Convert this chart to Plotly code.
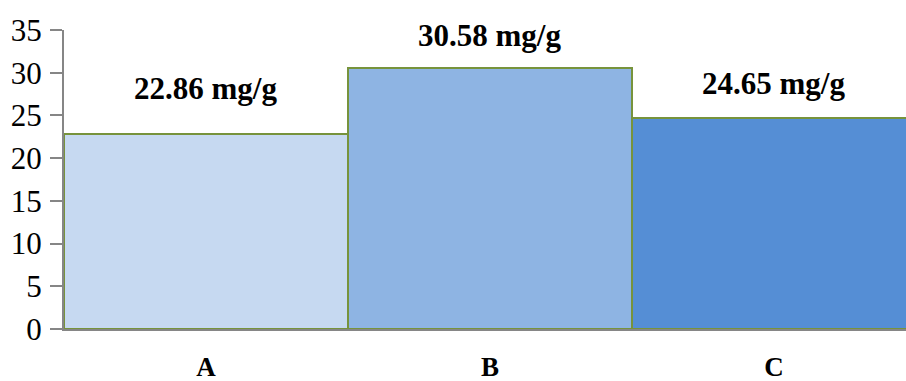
import plotly.graph_objects as go

categories = ["A", "B", "C"]
values = [22.86, 30.58, 24.65]
labels = ["22.86 mg/g", "30.58 mg/g", "24.65 mg/g"]
bar_colors = ["#C6D9F1", "#8EB4E3", "#558ED5"]
label_shift = [26, 13, 15]
y_ticks = [0, 5, 10, 15, 20, 25, 30, 35]

SERIF = "'Times New Roman', 'Liberation Serif', 'DejaVu Serif', serif"

fig = go.Figure()
fig.add_trace(go.Bar(
    x=categories, y=values,
    marker=dict(color=bar_colors, line=dict(color="#77933C", width=2)),
    width=1.0,
    hoverinfo="skip",
))

for c, v, t, s in zip(categories, values, labels, label_shift):
    fig.add_annotation(x=c, y=v, text="<b>" + t + "</b>", showarrow=False,
                       yanchor="bottom", yshift=s,
                       font=dict(family=SERIF, size=31, color="#000000"))

fig.update_layout(
    width=906, height=381,
    margin=dict(l=64, r=0, t=30, b=52),
    paper_bgcolor="white", plot_bgcolor="white",
    bargap=0,
    showlegend=False,
    font=dict(family=SERIF, color="#000000"),
)
fig.update_xaxes(
    range=[-0.5, 2.465], automargin=False,
    showline=True, linecolor="#868686", linewidth=2,
    ticks="", showgrid=False, zeroline=False,
    tickmode="array", tickvals=categories,
    ticktext=["<b>" + c + "</b>" for c in categories],
    tickfont=dict(family=SERIF, size=27, color="#000000"),
    ticklabelstandoff=13,
)
fig.update_yaxes(
    range=[0, 35], automargin=False,
    showline=True, linecolor="#868686", linewidth=2,
    ticks="outside", ticklen=12, tickcolor="#868686", tickwidth=2,
    tickvals=y_ticks, showgrid=False, zeroline=False,
    tickfont=dict(family=SERIF, size=31, color="#000000"),
    ticklabelstandoff=2,
)

fig.write_html("out.html")
